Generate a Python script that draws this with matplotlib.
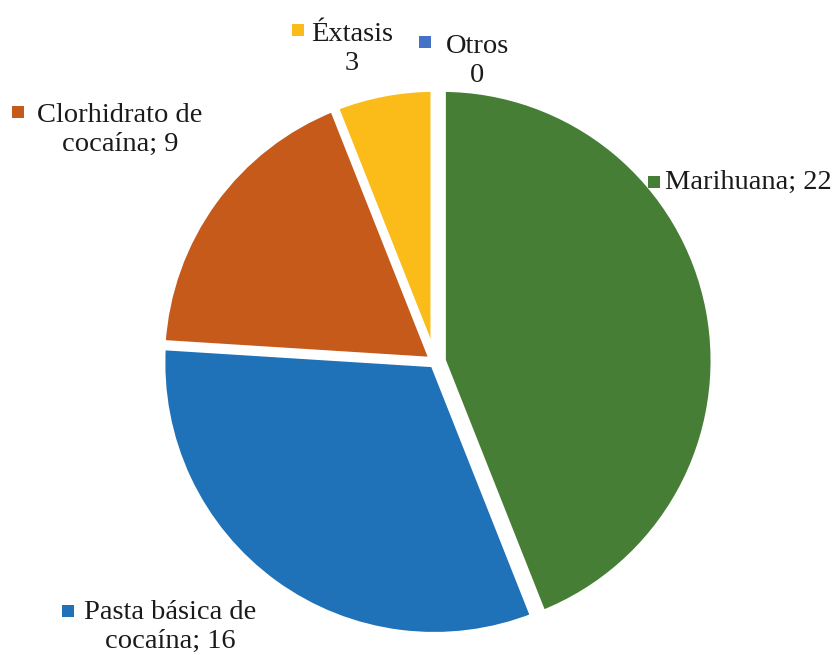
import matplotlib
matplotlib.use("Agg")
import matplotlib.pyplot as plt
from matplotlib.patches import Rectangle

categories = ["Marihuana", "Pasta básica de\ncocaína", "Clorhidrato de\ncocaína", "Éxtasis", "Otros"]
values = [22, 16, 9, 3, 0]
colors = ["#467e35", "#1f72b8", "#c55a1b", "#fbbc1a", "#4472c4"]
seps = ["; ", "; ", "; ", "\n", "\n"]

W, H = 838, 655
fig = plt.figure(figsize=(W / 100, H / 100), dpi=100)
ax = fig.add_axes([0, 0, 1, 1])

cx, cy, R = 435, 362, 273
ax.pie(values, colors=colors, startangle=90, counterclock=False,
       explode=[0.025, 0.005, 0.005, 0.005, 0],
       wedgeprops=dict(edgecolor="white", linewidth=6))
ax.set_xlim(-cx / R, (W - cx) / R)
ax.set_ylim(-(H - cy) / R, cy / R)
ax.set_aspect("auto")
ax.axis("off")

# label positions in pixels: (square x, square y, text x, text y, align)
label_pos = {
    "Marihuana": (654, 182, 665, 182, "left"),
    "Pasta básica de\ncocaína": (68, 611, 170, 627, "center"),
    "Clorhidrato de\ncocaína": (18, 112, 120, 130, "center"),
    "Éxtasis": (298, 30, 352, 49, "center"),
    "Otros": (425, 42, 477, 61, "center"),
}
font = dict(family="Liberation Serif", fontsize=20.5, color="#1a1a1a")
for cat, val, col, sep in zip(categories, values, colors, seps):
    sx, sy, tx, ty, ha = label_pos[cat]
    txt = f"{cat}{sep}{val}"
    fig.text(tx / W, 1 - ty / H, txt, ha=ha, va="center", linespacing=1.25,
             multialignment="center", **font)
    s = 12
    fig.patches.append(Rectangle(((sx - s / 2) / W, 1 - (sy + s / 2) / H), s / W, s / H,
                                 transform=fig.transFigure, facecolor=col,
                                 edgecolor="none"))

fig.savefig("out.png", dpi=100)
